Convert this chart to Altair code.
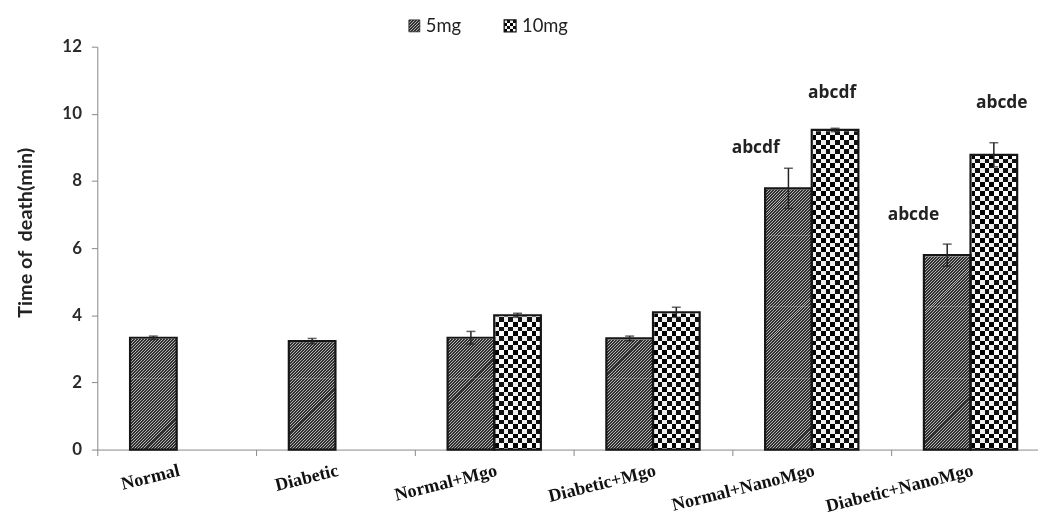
import math
import altair as alt
import pandas as pd

# ---------------- data ----------------
GROUPS = ["Normal", "Diabetic", "Normal+Mgo", "Diabetic+Mgo", "Normal+NanoMgo", "Diabetic+NanoMgo"]
DOSES = ["5mg", "10mg"]
VAL_5 = [3.33, 3.23, 3.33, 3.31, 7.78, 5.79]
ERR_5 = [0.05, 0.08, 0.19, 0.07, 0.60, 0.33]
VAL_10 = [None, None, 4.00, 4.09, 9.52, 8.78]
ERR_10 = [None, None, 0.06, 0.15, 0.05, 0.36]
SIG_5 = [None, None, None, None, "abcdf", "abcde"]
SIG_10 = [None, None, None, None, "abcdf", "abcde"]
Y_TICKS = [0, 2, 4, 6, 8, 10, 12]
Y_MAX = 12
Y_TITLE = "Time of\u00a0 death(min)"

# ---------------- style ----------------
PLOT_W = 948
PLOT_H = 406
STEP = 160
OFF_PAD = 0.702
BAR_W = STEP / (2 + 2 * OFF_PAD)
TILE_PX = 72                      # hatch tile height in pixels (multiple of the hatch period)
TILE_U = TILE_PX * Y_MAX / PLOT_H  # same height in data units
LABEL_SHIFT = {  # pixel offsets of significance letters (dx, dy)
    ("Normal+NanoMgo", "5mg"): (-33, -41),
    ("Normal+NanoMgo", "10mg"): (-3, -37),
    ("Diabetic+NanoMgo", "5mg"): (-34, -40),
    ("Diabetic+NanoMgo", "10mg"): (8, -52),
}

rows = []
for g, v5, e5, s5, v10, e10, s10 in zip(GROUPS, VAL_5, ERR_5, SIG_5, VAL_10, ERR_10, SIG_10):
    rows.append(dict(group=g, dose="5mg", value=v5, err=e5, sig=s5))
    if v10 is not None:
        rows.append(dict(group=g, dose="10mg", value=v10, err=e10, sig=s10))
df = pd.DataFrame(rows)
df["lo"] = df["value"] - df["err"]
df["hi"] = df["value"] + df["err"]
df["top"] = Y_MAX

# pattern tiles for the hatched 5mg bars (masked above each bar's value)
tiles = []
for r in df[df["dose"] == "5mg"].itertuples():
    k = 0
    while k * TILE_U < r.value:
        tiles.append(dict(group=r.group, dose=r.dose, t0=k * TILE_U, t1=(k + 1) * TILE_U))
        k += 1
tiles = pd.DataFrame(tiles)


def stops_px(total, period, a, b, c_on, c_off):
    """Stripe stops along a gradient of `total` px: colour c_on where (pos mod period) in [a, b)."""
    bounds = []
    k = 0
    while k * period < total:
        for p in (k * period + a, k * period + b):
            if 0 < p < total:
                bounds.append(p)
        k += 1
    bounds.sort()
    cur = c_off if a > 0 else c_on
    stops = [{"offset": 0, "color": cur}]
    for p in bounds:
        t = round(p / total, 6)
        stops.append({"offset": t, "color": cur})
        cur = c_on if cur == c_off else c_off
        stops.append({"offset": t, "color": cur})
    stops.append({"offset": 1, "color": cur})
    return stops


def diag_gradient(w, h, period, a, b, c_on, c_off):
    # 45-degree stripes, positions measured in (x + y) pixels from the box corner
    s = (w + h) / (w * w + h * h)
    return {"gradient": "linear", "x1": 0, "y1": 0, "x2": s * w, "y2": s * h,
            "stops": stops_px(w + h, period, a, b, c_on, c_off)}


def hv_gradient(horizontal, total, cell, c_on, c_off):
    return {"gradient": "linear", "x1": 0, "y1": 0,
            "x2": 1 if horizontal else 0, "y2": 0 if horizontal else 1,
            "stops": stops_px(total, 2 * cell, 0, cell, c_on, c_off)}


DARK = "#303030"
LIGHT = "#b4b4b4"
CLEAR = "rgba(255,255,255,0)"
CELL = 4.7

grad5 = diag_gradient(BAR_W, TILE_PX, 3.0, 0.5, 2.5, DARK, LIGHT)
grad10_h = hv_gradient(False, PLOT_H, CELL, "#111111", "#ffffff")
grad10_v = hv_gradient(True, BAR_W, CELL, "#ffffff", CLEAR)

x_enc = alt.X(
    "group:N", sort=GROUPS, title=None,
    scale=alt.Scale(domain=GROUPS, range=[0, STEP * len(GROUPS)], paddingInner=0, paddingOuter=0),
    axis=alt.Axis(
        labelFont="Liberation Serif", labelFontWeight="bold", labelFontSize=18.3, labelColor="#111",
        labelAngle=346, labelAlign="right", labelBaseline="top", labelPadding=6,
        labelOverlap=False, labelLimit=400, tickBand="extent",
        tickSize=6, tickColor="#888", domainColor="#888", grid=False,
    ),
)
xoff = alt.XOffset("dose:N", sort=DOSES,
                   scale=alt.Scale(domain=DOSES, paddingInner=0, paddingOuter=OFF_PAD))
y_scale = alt.Scale(domain=[0, Y_MAX], nice=False, zero=True)
y_axis = alt.Axis(
    values=Y_TICKS, grid=False, title=Y_TITLE,
    labelFont="Lato", labelFontWeight="bold", labelFontSize=17, labelColor="#2a2a2a", labelPadding=10,
    tickSize=6, tickColor="#888", domainColor="#888",
    titleFont="Lato", titleFontWeight="bold", titleFontSize=20, titleColor="#222",
    titleAngle=270, titleX=-72, titleY=187, titleAlign="center", titleBaseline="middle",
)

base = alt.Chart(df)
ten = base.transform_filter(alt.datum.dose == "10mg")

hatch5 = alt.Chart(tiles).mark_bar(fill=grad5, strokeWidth=0).encode(
    x=x_enc, xOffset=xoff, y=alt.Y("t1:Q", scale=y_scale, axis=y_axis), y2="t0:Q")
check_h = ten.mark_bar(fill=grad10_h, strokeWidth=0).encode(
    x=x_enc, xOffset=xoff, y=alt.Y("top:Q", scale=y_scale), y2=alt.datum(0))
check_v = ten.mark_bar(fill=grad10_v, strokeWidth=0, blend="difference").encode(
    x=x_enc, xOffset=xoff, y=alt.Y("top:Q", scale=y_scale), y2=alt.datum(0))
mask = base.mark_bar(fill="white", stroke="white", strokeWidth=2.5).encode(
    x=x_enc, xOffset=xoff, y=alt.Y("top:Q", scale=y_scale), y2="value:Q")
outline = base.mark_bar(fill="white", fillOpacity=0, stroke="#161616", strokeWidth=2.2).encode(
    x=x_enc, xOffset=xoff, y=alt.Y("value:Q", scale=y_scale), y2=alt.datum(0))
err_rule = base.mark_rule(color="#222", strokeWidth=1.5).encode(
    x=x_enc, xOffset=xoff, y=alt.Y("lo:Q", scale=y_scale), y2="hi:Q")
cap_hi = base.mark_tick(orient="horizontal", size=9, thickness=1.5, color="#222").encode(
    x=x_enc, xOffset=xoff, y=alt.Y("hi:Q", scale=y_scale))
cap_lo = base.mark_tick(orient="horizontal", size=9, thickness=1.5, color="#222").encode(
    x=x_enc, xOffset=xoff, y=alt.Y("lo:Q", scale=y_scale))

layers = [hatch5, check_h, check_v, mask, outline, err_rule, cap_hi, cap_lo]

for (g, d), (dx, dy) in LABEL_SHIFT.items():
    layers.append(
        base.transform_filter((alt.datum.group == g) & (alt.datum.dose == d))
        .mark_text(font="Open Sans", fontWeight="bold", fontSize=17.5, color="#222",
                   dx=dx, dy=dy, baseline="middle", align="center")
        .encode(x=x_enc, xOffset=xoff, y=alt.Y("value:Q", scale=y_scale), text="sig:N")
    )

# ---------------- manual legend ----------------
leg = alt.Chart(pd.DataFrame({"dose": DOSES}))
sw5 = diag_gradient(11, 12, 3.0, 0.5, 2.5, DARK, LIGHT)
sw10_h = hv_gradient(False, 12, 3, "#111111", "#ffffff")
sw10_v = hv_gradient(True, 12, 3, "#ffffff", CLEAR)
leg5 = leg.transform_filter(alt.datum.dose == "5mg")
leg10 = leg.transform_filter(alt.datum.dose == "10mg")
layers += [
    leg5.mark_rect(fill=sw5, stroke="#222", strokeWidth=0.8).encode(
        x=alt.value(314), x2=alt.value(325), y=alt.value(-27), y2=alt.value(-15)),
    leg10.mark_rect(fill=sw10_h, strokeWidth=0).encode(
        x=alt.value(410), x2=alt.value(422), y=alt.value(-27), y2=alt.value(-15)),
    leg10.mark_rect(fill=sw10_v, strokeWidth=0, blend="difference").encode(
        x=alt.value(410), x2=alt.value(422), y=alt.value(-27), y2=alt.value(-15)),
    leg10.mark_rect(fill="white", fillOpacity=0, stroke="#111", strokeWidth=1.2).encode(
        x=alt.value(410), x2=alt.value(422), y=alt.value(-27), y2=alt.value(-15)),
    leg5.mark_text(font="Lato", fontSize=18.5, color="#222", align="left", baseline="middle").encode(
        x=alt.value(331), y=alt.value(-21), text="dose:N"),
    leg10.mark_text(font="Lato", fontSize=18.5, color="#222", align="left", baseline="middle").encode(
        x=alt.value(428), y=alt.value(-21), text="dose:N"),
]

chart = alt.layer(*layers).properties(
    width=PLOT_W, height=PLOT_H,
    autosize=alt.AutoSizeParams(type="none"),
    padding={"left": 90, "top": 37, "right": 0, "bottom": 72},
).configure_view(stroke=None)

chart.save("out.html", embed_options={"renderer": "svg", "actions": False})
